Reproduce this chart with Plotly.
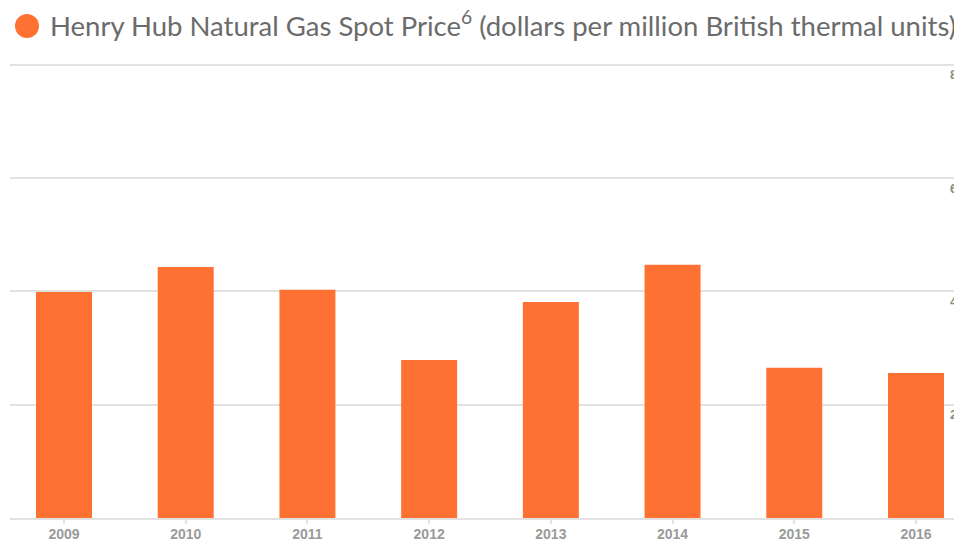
import plotly.graph_objects as go

years = ["2009", "2010", "2011", "2012", "2013", "2014", "2015", "2016"]
prices = [3.99, 4.43, 4.03, 2.79, 3.81, 4.47, 2.65, 2.56]
y_ticks = [2, 4, 6, 8]

title_text = ("Henry Hub Natural Gas Spot Price<sup>6</sup> "
              "(dollars per million British thermal units)")

BAR = "#FF7133"
GRID = "#e2e2e2"

# The page body has an 8px default margin, so the figure is sized to fill
# the rest of the 962x543 window.
W, H = 954, 535

fig = go.Figure(go.Bar(
    x=years, y=prices, marker_color=BAR, marker_line_width=0,
    width=0.46, hoverinfo="x+y",
))

fig.update_layout(
    width=W, height=H,
    margin=dict(l=2, r=6, t=51, b=25, autoexpand=False),
    paper_bgcolor="white", plot_bgcolor="white",
    showlegend=False,
    title=dict(
        text=title_text,
        x=42 / W, xanchor="left", xref="container",
        y=1 - 18 / H, yanchor="middle", yref="container",
        font=dict(family="Lato", size=27.5, color="#6b6b6b"),
    ),
    xaxis=dict(
        type="category",
        range=[-0.4437, 7.3287],
        showgrid=False, automargin=False,
        showline=True, linecolor=GRID, linewidth=2,
        ticks="outside", ticklen=4, tickcolor=GRID, tickwidth=2,
        ticklabelstandoff=-2,
        tickfont=dict(family="Liberation Sans", size=14, color="#9a9a9a", weight="bold"),
        fixedrange=True,
    ),
    yaxis=dict(
        range=[0, 8.1],
        side="right", automargin=False,
        tickvals=y_ticks,
        showgrid=True, gridcolor=GRID, gridwidth=2,
        zeroline=False, showline=False, ticks="",
        ticklabelstandoff=-7, ticklabelshift=10,
        tickfont=dict(family="Liberation Sans", size=13, color="#8c8c84", weight="bold"),
        fixedrange=True,
    ),
    shapes=[dict(
        type="circle", xref="paper", yref="paper",
        xsizemode="pixel", ysizemode="pixel",
        xanchor=0, yanchor=1,
        x0=5, x1=29, y0=21, y1=45,
        fillcolor=BAR, line=dict(width=0),
    )],
)

fig.write_html("out.html")
